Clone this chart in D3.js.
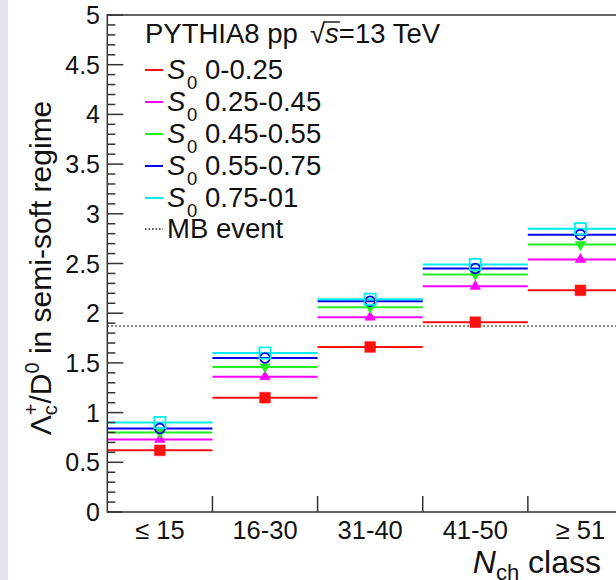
<!DOCTYPE html>
<html>
<head>
<meta charset="utf-8">
<script src="https://cdn.jsdelivr.net/npm/d3@7"></script>
<style>
  body { margin: 0; background: #fff; }
  text { font-family: "Liberation Sans", Arial, sans-serif; fill: #111; }
</style>
</head>
<body>
<svg id="chart" width="616" height="580"></svg>
<script>
// data
const classes = ['\u2264 15', '16-30', '31-40', '41-50', '\u2265 51'];
const s0Labels = ['0-0.25', '0.25-0.45', '0.45-0.55', '0.55-0.75', '0.75-01'];
const s0_0_025 = [0.62, 1.15, 1.66, 1.91, 2.23];
const s0_025_045 = [0.73, 1.36, 1.96, 2.27, 2.54];
const s0_045_055 = [0.80, 1.46, 2.06, 2.39, 2.69];
const s0_055_075 = [0.84, 1.55, 2.12, 2.45, 2.79];
const s0_075_1 = [0.90, 1.60, 2.14, 2.49, 2.85];
const mbValue = 1.87;
const yTicks = [0, 0.5, 1, 1.5, 2, 2.5, 3, 3.5, 4, 4.5, 5];

let svg = d3.select('#chart');

// lavender strip on the left edge
svg.append('rect')
  .attr('x', 0).attr('y', 0)
  .attr('width', 8).attr('height', 580)
  .attr('fill', '#e3e3ef');

let x = d3.scaleLinear().domain([0, classes.length]).range([107.3, 633]);
let y = d3.scaleLinear().domain([0, 5]).range([512, 15]);

let series = [
  { label: s0Labels[0], values: s0_0_025, color: '#ff1010', symbol: d3.symbolSquare, size: 115, fill: true, rot: 0 },
  { label: s0Labels[1], values: s0_025_045, color: '#ff00ff', symbol: d3.symbolTriangle, size: 48, fill: true, rot: 0 },
  { label: s0Labels[2], values: s0_045_055, color: '#22ee22', symbol: d3.symbolTriangle, size: 48, fill: true, rot: 180 },
  { label: s0Labels[3], values: s0_055_075, color: '#0000ee', symbol: d3.symbolCircle, size: 75, fill: false, rot: 0 },
  { label: s0Labels[4], values: s0_075_1, color: '#00eeee', symbol: d3.symbolSquare, size: 125, fill: false, rot: 0 }
];

// MB reference line
svg.append('line')
  .attr('x1', x(0)).attr('x2', x(5))
  .attr('y1', y(mbValue)).attr('y2', y(mbValue))
  .attr('stroke', '#333')
  .attr('stroke-width', 1.5)
  .attr('stroke-dasharray', '1.5,2.5');

// horizontal bin bars
for (let s of series) {
  svg.append('g').selectAll('line')
    .data(s.values)
    .join('line')
    .attr('x1', (d, i) => x(i))
    .attr('x2', (d, i) => x(i + 1))
    .attr('y1', d => y(d))
    .attr('y2', d => y(d))
    .attr('stroke', s.color)
    .attr('stroke-width', 2);
}

// markers
for (let s of series) {
  svg.append('g').selectAll('path')
    .data(s.values)
    .join('path')
    .attr('d', d3.symbol().type(s.symbol).size(s.size))
    .attr('transform', (d, i) => `translate(${x(i + 0.5)},${y(d)}) rotate(${s.rot})`)
    .attr('fill', s.fill ? s.color : 'none')
    .attr('stroke', s.color)
    .attr('stroke-width', s.fill ? 0.5 : 1.8);
}

// frame
svg.append('path')
  .attr('d', `M${x(5)},${y(5)}H${x(0)}V${y(0)}H${x(5)}`)
  .attr('fill', 'none')
  .attr('stroke', '#333')
  .attr('stroke-width', 1.5);

// y ticks: major every 0.5, minor every 0.1
let minor = d3.range(0, 5.001, 0.1);
svg.append('g').selectAll('line')
  .data(minor)
  .join('line')
  .attr('x1', x(0))
  .attr('x2', (d, i) => x(0) + (i % 5 === 0 ? 16 : 8))
  .attr('y1', d => y(d))
  .attr('y2', d => y(d))
  .attr('stroke', '#333')
  .attr('stroke-width', 1.5);

svg.append('g').selectAll('text')
  .data(yTicks)
  .join('text')
  .attr('x', 100)
  .attr('y', d => y(d))
  .attr('dy', '0.36em')
  .attr('text-anchor', 'end')
  .attr('font-size', 25)
  .text(d => d);

// x ticks at bin edges
svg.append('g').selectAll('line')
  .data(d3.range(1, classes.length))
  .join('line')
  .attr('x1', d => x(d)).attr('x2', d => x(d))
  .attr('y1', y(0)).attr('y2', y(0) - 16)
  .attr('stroke', '#333')
  .attr('stroke-width', 1.5);

svg.append('g').selectAll('text')
  .data(classes)
  .join('text')
  .attr('x', (d, i) => x(i + 0.5))
  .attr('y', 539)
  .attr('text-anchor', 'middle')
  .attr('font-size', 25.5)
  .text(d => d);

// x title
let xt = svg.append('text')
  .attr('x', 601).attr('y', 573)
  .attr('text-anchor', 'end')
  .attr('font-size', 32);
xt.append('tspan').attr('font-style', 'italic').text('N');
xt.append('tspan').attr('font-size', 22).attr('dy', 7).text('ch');
xt.append('tspan').attr('dy', -7).text(' class');

// y title
let yt = svg.append('text')
  .attr('transform', 'translate(51,268) rotate(-90)')
  .attr('text-anchor', 'middle')
  .attr('font-size', 30);
yt.append('tspan').text('\u039b');
yt.append('tspan').attr('font-size', 20).attr('dy', 6).text('c');
yt.append('tspan').attr('font-size', 20).attr('dx', -10).attr('dy', -19).text('+');
yt.append('tspan').attr('dy', 13).text('/D');
yt.append('tspan').attr('font-size', 20).attr('dy', -12).text('0');
yt.append('tspan').attr('dy', 12).text(' in semi-soft regime');

// legend header, laid out piece by piece
let hx = 145;
svg.append('text').attr('x', hx).attr('y', 43).attr('font-size', 27.5).text('PYTHIA8 pp');
hx = 310;
let h2 = svg.append('text').attr('x', hx).attr('y', 43).attr('font-size', 27.5).text('\u221a');
hx += h2.node().getComputedTextLength();
let h3 = svg.append('text').attr('x', hx).attr('y', 43).attr('font-size', 27.5)
  .attr('font-style', 'italic').text('s');
let sw = h3.node().getComputedTextLength();
svg.append('line')
  .attr('x1', hx - 1).attr('x2', hx + sw + 1)
  .attr('y1', 22).attr('y2', 22)
  .attr('stroke', '#111').attr('stroke-width', 1.4);
hx += sw;
svg.append('text').attr('x', hx).attr('y', 43).attr('font-size', 27.5).text('=13 TeV');

// legend rows
let rowY = d3.scaleLinear().domain([0, 5]).range([70, 230]);
let legend = svg.append('g');
series.forEach((s, i) => {
  legend.append('line')
    .attr('x1', 145).attr('x2', 163)
    .attr('y1', rowY(i)).attr('y2', rowY(i))
    .attr('stroke', s.color).attr('stroke-width', 2);
  legend.append('text')
    .attr('x', 167).attr('y', rowY(i) + 9)
    .attr('font-size', 27.5).attr('font-style', 'italic')
    .text('S');
  legend.append('text')
    .attr('x', 187).attr('y', rowY(i) + 19)
    .attr('font-size', 18.5)
    .text('0');
  legend.append('text')
    .attr('x', 205).attr('y', rowY(i) + 9)
    .attr('font-size', 27.5)
    .text(s.label);
});
legend.append('line')
  .attr('x1', 145).attr('x2', 163)
  .attr('y1', 229).attr('y2', 229)
  .attr('stroke', '#222').attr('stroke-width', 1.5)
  .attr('stroke-dasharray', '1.5,2');
legend.append('text')
  .attr('x', 167).attr('y', 238)
  .attr('font-size', 27.5)
  .text('MB event');
</script>
</body>
</html>
